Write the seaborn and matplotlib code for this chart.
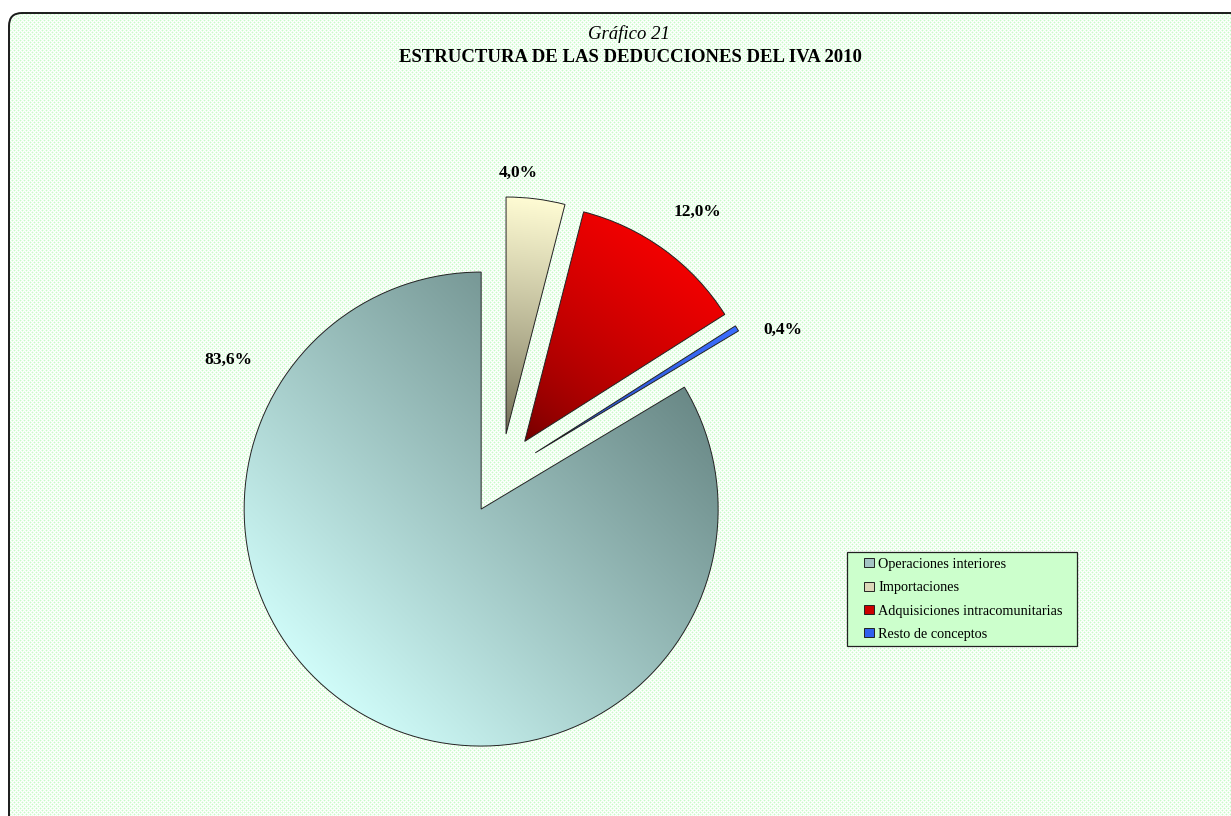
import numpy as np
import pandas as pd
import matplotlib
matplotlib.use("Agg")
import matplotlib.pyplot as plt
import seaborn as sns
from matplotlib.colors import to_rgb
from matplotlib.patches import FancyBboxPatch, Rectangle

# data
conceptos = ["Operaciones interiores", "Importaciones",
             "Adquisiciones intracomunitarias", "Resto de conceptos"]
porcentajes = [83.6, 4.0, 12.0, 0.4]

# colours: flat colour (legend), light and dark end of the gradient
base_colors = ["#a3c3c3", "#dcd8b8", "#cc0000", "#3060ee"]
light_colors = ["#d0fcf9", "#fffcd4", "#f20000", "#3b6dff"]
dark_colors = ["#6a8987", "#6c6850", "#680000", "#1c3790"]
gammas = [1.0, 0.8, 0.6, 0.5]

df = pd.DataFrame({"concepto": conceptos, "pct": porcentajes})

sns.set_theme(style="white")
plt.rcParams["font.family"] = ["Liberation Serif", "DejaVu Serif"]
plt.rcParams["text.color"] = "black"

W, H = 1231, 816
fig = plt.figure(figsize=(W / 100, H / 100), dpi=100)
ax = fig.add_axes([0, 0, 1, 1])

# dotted light-green background inside a rounded frame
yy, xx = np.mgrid[0:H, 0:W]
tex = np.ones((H, W, 3))
dot = ((xx % 4 == 0) & (yy % 4 == 0)) | ((xx % 4 == 2) & (yy % 4 == 2))
halo = (((xx % 4 == 1) | (xx % 4 == 3)) & ((yy % 4 == 0) | (yy % 4 == 2))) | \
       (((yy % 4 == 1) | (yy % 4 == 3)) & ((xx % 4 == 0) | (xx % 4 == 2)))
tex[halo] = to_rgb("#eafdea")
tex[dot] = to_rgb("#c8fac8")
frame = FancyBboxPatch((9, -40), 1300, H - 13 + 40,
                       boxstyle="round,pad=0,rounding_size=13",
                       facecolor="none", edgecolor="#1a1a1a", lw=1.4, zorder=5)
ax.add_patch(frame)
bg = ax.imshow(tex, extent=(0, W, 0, H), origin="upper",
               interpolation="nearest", zorder=0)
bg.set_clip_path(frame)

# pie (Excel starts the first slice so that the rest sit at 12 o'clock)
R = 237
start = 90 + df.pct.iloc[0] / df.pct.sum() * 360 - 360
wedges, _ = ax.pie(df.pct, colors=base_colors, startangle=start,
                   counterclock=False, radius=R, center=(501, 342),
                   explode=[0.17 * R] * 4,
                   wedgeprops=dict(edgecolor="#222222", linewidth=0.7))

# legend: own box, entries placed inside it
ax.add_patch(Rectangle((847, H - 646), 230, 94, facecolor="#ccffcc",
                       edgecolor="#222222", lw=0.9, zorder=6))
leg = ax.legend(wedges, conceptos, loc="upper left",
                bbox_to_anchor=(864, H - 558), bbox_transform=ax.transData,
                fontsize=10.3, frameon=False, borderaxespad=0, borderpad=0,
                labelspacing=0.72, handlelength=0.7, handleheight=0.6,
                handletextpad=0.3)
leg.set_zorder(7)
for t in leg.get_texts():
    t.set_color("black")

# gradient fill of each slice
grad_dirs = [225, None, None, None]
for w, lc, dc, gd, g in zip(wedges, light_colors, dark_colors, grad_dirs, gammas):
    ext = w.get_path().get_extents()
    x0, y0, x1, y1 = ext.x0, ext.y0, ext.x1, ext.y1
    if gd is None:
        gd = (w.theta1 + w.theta2) / 2
    d = np.deg2rad(gd)
    verts = w.get_path().vertices
    pv = verts[:, 0] * np.cos(d) + verts[:, 1] * np.sin(d)
    gx, gy = np.meshgrid(np.linspace(x0, x1, 300), np.linspace(y0, y1, 300))
    p = gx * np.cos(d) + gy * np.sin(d)
    t = np.clip((p - pv.min()) / (pv.max() - pv.min()), 0, 1) ** g
    img = np.array(to_rgb(dc)) + t[..., None] * (np.array(to_rgb(lc)) - np.array(to_rgb(dc)))
    im = ax.imshow(img, extent=(x0, x1, y0, y1), origin="lower", zorder=1)
    im.set_clip_path(w)
    w.set_facecolor("none")
    w.set_zorder(2)

# percentage labels
label_pos = [(228, H - 360), (518, H - 173), (697, H - 212), (783, H - 330)]
for v, (lx, ly) in zip(df.pct, label_pos):
    ax.text(lx, ly, f"{v:.1f}%".replace(".", ","), ha="center", va="center",
            fontsize=12.5, fontweight="bold", color="black", zorder=7)

ax.text(629, H - 34, "Gráfico 21", ha="center", va="center",
        fontsize=13.5, style="italic", color="black")
ax.text(630, H - 58, "ESTRUCTURA DE LAS DEDUCCIONES DEL IVA 2010",
        ha="center", va="center", fontsize=13.5, fontweight="bold", color="black")

ax.set_xlim(0, W)
ax.set_ylim(0, H)
ax.set_aspect("auto")
ax.axis("off")
fig.savefig("out.png", dpi=100)
